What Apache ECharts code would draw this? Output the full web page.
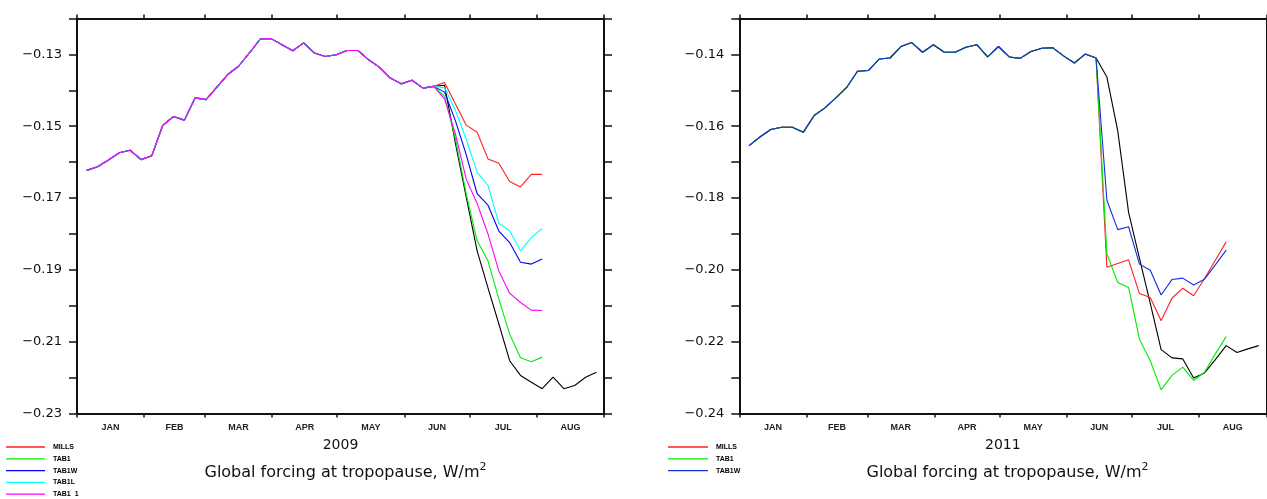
<!DOCTYPE html>
<html>
<head>
<meta charset="utf-8">
<script src="https://cdn.jsdelivr.net/npm/echarts@6/dist/echarts.min.js"></script>
<style>
html,body{margin:0;padding:0;background:#fff;}
#chart{width:1267px;height:499px;}
</style>
</head>
<body>
<div id="chart"></div>
<script>
// ---- axis labels / ticks ----
const monthNames = ['JAN','FEB','MAR','APR','MAY','JUN','JUL','AUG'];
const monthBounds = [0,31,59,90,120,151,181,212,243];
const monthMids = [15.5,45,74.5,105,135.5,166,196.5,227.5];
const yLabels2009 = [-0.23,-0.21,-0.19,-0.17,-0.15,-0.13];
const yLabels2011 = [-0.24,-0.22,-0.20,-0.18,-0.16,-0.14];

// ---- pentad days (day of year) ----
const days = [4.5,9.5,14.5,19.5,24.5,29.5,34.5,39.5,44.5,49.5,54.5,59.5,64.5,69.5,74.5,79.5,
  84.5,89.5,94.5,99.5,104.5,109.5,114.5,119.5,124.5,129.5,134.5,139.5,144.5,149.5,154.5,159.5,
  164.5,169.5,174.5,179.5,184.5,189.5,194.5,199.5,204.5,209.5,214.5,219.5,224.5,229.5,234.5,239.5];

// ---- 2009 ----
const mills2009 = [-0.1623,-0.1613,-0.1594,-0.1574,-0.1567,-0.1593,-0.1582,-0.1498,-0.1473,-0.1483,-0.1421,-0.1426,-0.1391,-0.1356,-0.1333,-0.1296,-0.1257,-0.1256,-0.1273,-0.1290,-0.1268,-0.1296,-0.1306,-0.1301,-0.1289,-0.1289,-0.1315,-0.1336,-0.1366,-0.1382,-0.1372,-0.1394,-0.1389,
  -0.1378,-0.1438,-0.1497,-0.1517,-0.1591,-0.1603,-0.1654,-0.1669,-0.1634,-0.1634];
const tab1_2009 = [-0.1623,-0.1613,-0.1594,-0.1574,-0.1567,-0.1593,-0.1582,-0.1498,-0.1473,-0.1483,-0.1421,-0.1426,-0.1391,-0.1356,-0.1333,-0.1296,-0.1257,-0.1256,-0.1273,-0.1290,-0.1268,-0.1296,-0.1306,-0.1301,-0.1289,-0.1289,-0.1315,-0.1336,-0.1366,-0.1382,-0.1372,-0.1394,-0.1389,
  -0.1417,-0.1535,-0.1689,-0.1819,-0.1875,-0.1981,-0.2079,-0.2145,-0.2156,-0.2143];
const tab1w_2009 = [-0.1623,-0.1613,-0.1594,-0.1574,-0.1567,-0.1593,-0.1582,-0.1498,-0.1473,-0.1483,-0.1421,-0.1426,-0.1391,-0.1356,-0.1333,-0.1296,-0.1257,-0.1256,-0.1273,-0.1290,-0.1268,-0.1296,-0.1306,-0.1301,-0.1289,-0.1289,-0.1315,-0.1336,-0.1366,-0.1382,-0.1372,-0.1394,-0.1389,
  -0.1405,-0.1485,-0.1580,-0.1688,-0.1720,-0.1792,-0.1824,-0.1879,-0.1884,-0.1870];
const tab1l_2009 = [-0.1623,-0.1613,-0.1594,-0.1574,-0.1567,-0.1593,-0.1582,-0.1498,-0.1473,-0.1483,-0.1421,-0.1426,-0.1391,-0.1356,-0.1333,-0.1296,-0.1257,-0.1256,-0.1273,-0.1290,-0.1268,-0.1296,-0.1306,-0.1301,-0.1289,-0.1289,-0.1315,-0.1336,-0.1366,-0.1382,-0.1372,-0.1394,-0.1389,
  -0.1393,-0.1456,-0.1537,-0.1628,-0.1665,-0.1770,-0.1791,-0.1847,-0.1810,-0.1785];
const tab1_1_2009 = [-0.1623,-0.1613,-0.1594,-0.1574,-0.1567,-0.1593,-0.1582,-0.1498,-0.1473,-0.1483,-0.1421,-0.1426,-0.1391,-0.1356,-0.1333,-0.1296,-0.1257,-0.1256,-0.1273,-0.1290,-0.1268,-0.1296,-0.1306,-0.1301,-0.1289,-0.1289,-0.1315,-0.1336,-0.1366,-0.1382,-0.1372,-0.1394,-0.1389,
  -0.1424,-0.1522,-0.1648,-0.1715,-0.1800,-0.1903,-0.1965,-0.1991,-0.2012,-0.2013];
const black2009 = [-0.1623,-0.1613,-0.1594,-0.1574,-0.1567,-0.1593,-0.1582,-0.1498,-0.1473,-0.1483,-0.1421,-0.1426,-0.1391,-0.1356,-0.1333,-0.1296,-0.1257,-0.1256,-0.1273,-0.1290,-0.1268,-0.1296,-0.1306,-0.1301,-0.1289,-0.1289,-0.1315,-0.1336,-0.1366,-0.1382,-0.1372,-0.1394,-0.1389,
  -0.1386,-0.1548,-0.1698,-0.1847,-0.1950,-0.2050,-0.2153,-0.2194,-0.2213,-0.2231,-0.2199,-0.2231,-0.2222,-0.2199,-0.2185];

// ---- 2011 ----
const mills2011 = [-0.1654,-0.1630,-0.1609,-0.1603,-0.1603,-0.1617,-0.1570,-0.1549,-0.1521,-0.1492,-0.1447,-0.1445,-0.1413,-0.1410,-0.1378,-0.1367,-0.1394,-0.1373,-0.1394,-0.1394,-0.1380,-0.1373,-0.1407,-0.1378,-0.1407,-0.1411,-0.1392,-0.1383,-0.1381,-0.1404,-0.1424,-0.1399,-0.1410,
  -0.1993,-0.1982,-0.1972,-0.2066,-0.2077,-0.2142,-0.2079,-0.2051,-0.2072,-0.2024,-0.1973,-0.1922];
const tab1_2011 = [-0.1654,-0.1630,-0.1609,-0.1603,-0.1603,-0.1617,-0.1570,-0.1549,-0.1521,-0.1492,-0.1447,-0.1445,-0.1413,-0.1410,-0.1378,-0.1367,-0.1394,-0.1373,-0.1394,-0.1394,-0.1380,-0.1373,-0.1407,-0.1378,-0.1407,-0.1411,-0.1392,-0.1383,-0.1381,-0.1404,-0.1424,-0.1399,-0.1410,
  -0.1956,-0.2035,-0.2049,-0.2193,-0.2253,-0.2334,-0.2294,-0.2271,-0.2308,-0.2285,-0.2234,-0.2186];
const tab1w_2011 = [-0.1654,-0.1630,-0.1609,-0.1603,-0.1603,-0.1617,-0.1570,-0.1549,-0.1521,-0.1492,-0.1447,-0.1445,-0.1413,-0.1410,-0.1378,-0.1367,-0.1394,-0.1373,-0.1394,-0.1394,-0.1380,-0.1373,-0.1407,-0.1378,-0.1407,-0.1411,-0.1392,-0.1383,-0.1381,-0.1404,-0.1424,-0.1399,-0.1410,
  -0.1806,-0.1888,-0.1880,-0.1984,-0.2001,-0.2070,-0.2027,-0.2023,-0.2042,-0.2026,-0.1986,-0.1945];
const black2011 = [-0.1654,-0.1630,-0.1609,-0.1603,-0.1603,-0.1617,-0.1570,-0.1549,-0.1521,-0.1492,-0.1447,-0.1445,-0.1413,-0.1410,-0.1378,-0.1367,-0.1394,-0.1373,-0.1394,-0.1394,-0.1380,-0.1373,-0.1407,-0.1378,-0.1407,-0.1411,-0.1392,-0.1383,-0.1381,-0.1404,-0.1424,-0.1399,-0.1410,
  -0.1463,-0.1613,-0.1840,-0.1967,-0.2093,-0.2222,-0.2245,-0.2248,-0.2301,-0.2287,-0.2250,-0.2211,-0.2230,-0.2220,-0.2211];

const AXC = '#111';
const monthFmt = v => { const k = monthMids.indexOf(v); return k >= 0 ? monthNames[k] : ''; };
const yFmt = v => '\u2212' + Math.abs(v).toFixed(2);

function bottomX(gi, year) {
  return {
    type: 'value', gridIndex: gi, position: 'bottom', min: 0, max: 243,
    splitLine: {show: false},
    axisLine: {show: true, onZero: false, lineStyle: {color: AXC, width: 2}},
    axisTick: {show: true, inside: false, length: 4, customValues: monthBounds, lineStyle: {color: AXC, width: 1.5}},
    axisLabel: {show: true, customValues: monthMids, formatter: monthFmt, margin: 10,
      fontFamily: 'Liberation Sans', fontSize: 9, fontWeight: 'bold', color: '#222'},
    name: year, nameLocation: 'middle', nameGap: 25,
    nameTextStyle: {fontFamily: 'DejaVu Sans', fontSize: 14, color: '#111'}
  };
}
function topX(gi) {
  return {
    type: 'value', gridIndex: gi, position: 'top', min: 0, max: 243,
    splitLine: {show: false},
    axisLine: {show: true, onZero: false, lineStyle: {color: AXC, width: 2}},
    axisTick: {show: true, inside: false, length: 4, customValues: monthBounds, lineStyle: {color: AXC, width: 1.5}},
    axisLabel: {show: false}
  };
}
function leftY(gi, mn, mx, labels) {
  return {
    type: 'value', gridIndex: gi, position: 'left', min: mn, max: mx, interval: 0.01,
    splitLine: {show: false},
    axisLine: {show: true, onZero: false, lineStyle: {color: AXC, width: 2}},
    axisTick: {show: true, inside: false, length: 8, lineStyle: {color: AXC, width: 1.5}},
    axisLabel: {show: true, customValues: labels, formatter: yFmt, margin: 15,
      fontFamily: 'DejaVu Sans', fontSize: 13, color: '#111'}
  };
}
function rightY(gi, mn, mx) {
  return {
    type: 'value', gridIndex: gi, position: 'right', min: mn, max: mx, interval: 0.01,
    splitLine: {show: false},
    axisLine: {show: true, onZero: false, lineStyle: {color: AXC, width: 2}},
    axisTick: {show: true, inside: false, length: 8, lineStyle: {color: AXC, width: 1.5}},
    axisLabel: {show: false}
  };
}
function line(name, ys, color, xi, yi) {
  return {
    type: 'line', name: name, xAxisIndex: xi, yAxisIndex: yi,
    data: ys.map((v, k) => [days[k], v]),
    symbol: 'none', showSymbol: false, silent: true, animation: false,
    lineStyle: {color: color, width: 1.1}, itemStyle: {color: color}
  };
}

const titleText = '{a|Global forcing at tropopause, W/m}{s|2}';
const titleRich = {
  a: {fontFamily: 'DejaVu Sans', fontSize: 16, fontWeight: 'normal', color: '#111', lineHeight: 22},
  s: {fontFamily: 'DejaVu Sans', fontSize: 11, fontWeight: 'normal', color: '#111', lineHeight: 11, verticalAlign: 'top'}
};
const legendText = {fontFamily: 'Liberation Sans', fontSize: 7, fontWeight: 'bold', color: '#000',
  lineHeight: 8, padding: [0,0,0,3]};

const option = {
  backgroundColor: '#fff',
  animation: false,
  title: [
    {text: titleText, left: 340.5, top: 457, textAlign: 'center', textStyle: {fontWeight: 'normal', rich: titleRich}},
    {text: titleText, left: 1002.5, top: 457, textAlign: 'center', textStyle: {fontWeight: 'normal', rich: titleRich}}
  ],
  legend: [
    {orient: 'vertical', left: 6, top: 443, padding: 0, icon: 'rect', itemWidth: 39, itemHeight: 1.3, itemGap: 3.8,
     data: ['MILLS','TAB1','TAB1W','TAB1L','TAB1  1'], textStyle: legendText, selectedMode: false},
    {orient: 'vertical', left: 668, top: 443, padding: 0, icon: 'rect', itemWidth: 40, itemHeight: 1.3, itemGap: 3.8,
     data: ['MILLS ','TAB1 ','TAB1W '], textStyle: legendText, selectedMode: false,
     formatter: n => n.trim()}
  ],
  grid: [
    {left: 77, top: 18.5, width: 527, height: 395},
    {left: 739.3, top: 18.5, width: 527, height: 395}
  ],
  xAxis: [bottomX(0, '2009'), topX(0), bottomX(1, '2011'), topX(1)],
  yAxis: [leftY(0, -0.23, -0.12, yLabels2009), rightY(0, -0.23, -0.12),
          leftY(1, -0.24, -0.13, yLabels2011), rightY(1, -0.24, -0.13)],
  series: [
    line('ctrl2009', black2009, '#000000', 0, 0),
    line('MILLS', mills2009, '#ff2020', 0, 0),
    line('TAB1', tab1_2009, '#00ee00', 0, 0),
    line('TAB1W', tab1w_2009, '#0000ff', 0, 0),
    line('TAB1L', tab1l_2009, '#00ffff', 0, 0),
    line('TAB1  1', tab1_1_2009, '#ff00ff', 0, 0),
    line('ctrl2011', black2011, '#000000', 2, 2),
    line('MILLS ', mills2011, '#ff2020', 2, 2),
    line('TAB1 ', tab1_2011, '#00ee00', 2, 2),
    line('TAB1W ', tab1w_2011, '#1030e0', 2, 2)
  ]
};

const chart = echarts.init(document.getElementById('chart'), null, {renderer: 'canvas'});
chart.setOption(option);
</script>
</body>
</html>
